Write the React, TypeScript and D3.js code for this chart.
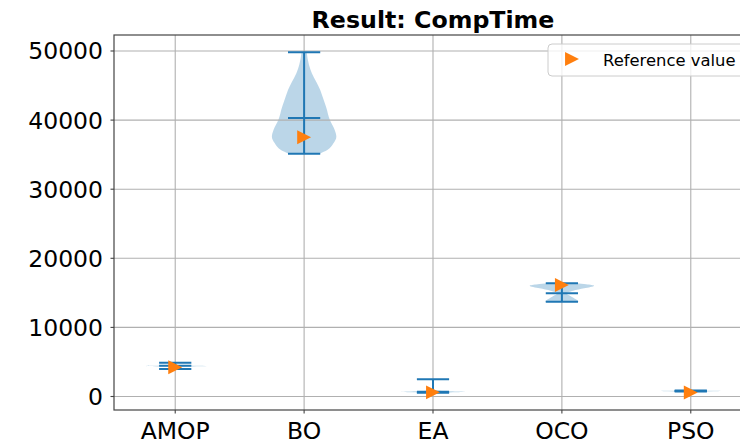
import * as d3 from "d3"

const methods = ["AMOP", "BO", "EA", "OCO", "PSO"]
const minValues = [3980, 35137, 560, 13719, 720]
const meanValues = [4457, 40304, 695, 14935, 796]
const maxValues = [4891, 49812, 2489, 16400, 870]
const referenceValues = [4226, 37511, 600, 16136, 580]
const yTicks = [0, 10000, 20000, 30000, 40000, 50000]

// density profiles: [value, relative half-width]
const densityAMOP: [number, number][] = [
  [3980, 0.01], [4250, 0.04], [4340, 0.4], [4414, 1], [4490, 0.4], [4580, 0.04], [4891, 0.01],
]
const densityBO: [number, number][] = [
  [35137, 0.48], [35677, 0.72], [36642, 0.91], [37597, 1], [38567, 0.95], [40014, 0.8],
  [41940, 0.68], [43000, 0.6], [44356, 0.5], [45500, 0.38], [46773, 0.24], [48000, 0.15], [49812, 0.08],
]
const densityEA: [number, number][] = [
  [560, 0.35], [620, 0.7], [695, 1], [770, 0.55], [880, 0.12], [1100, 0.02], [1600, 0.008], [2489, 0.005],
]
const densityOCO: [number, number][] = [
  [13719, 0.52], [13965, 0.47], [14443, 0.3], [14935, 0.14], [15311, 0.35], [15658, 0.69],
  [16035, 1], [16250, 0.75], [16400, 0.45],
]
const densityPSO: [number, number][] = [
  [720, 0.3], [760, 0.7], [796, 1], [830, 0.7], [870, 0.3],
]
const densities = [densityAMOP, densityBO, densityEA, densityOCO, densityPSO]

const W = 740
const H = 440
const margin = { left: 114, top: 35, bottom: 410, right: 752 }
const font = "DejaVu Sans, sans-serif"
const blue = "#1f77b4"
const orange = "#ff7f0e"

export default function App() {
  const x = d3.scaleLinear().domain([0.525, 5.475]).range([margin.left, margin.right])
  const y = d3.scaleLinear().domain([-1954, 52315]).range([margin.bottom, margin.top])

  const halfW = x(1.25) - x(1)
  const capW = x(1.125) - x(1)
  const ms = 13.9

  const tri = (cx: number, cy: number) =>
    `M${cx + ms / 2},${cy}L${cx - ms / 2},${cy - ms / 2}L${cx - ms / 2},${cy + ms / 2}Z`

  const legendX = 548
  const legendY = 44

  return (
    <svg width={W} height={H} style={{ position: "absolute", left: 0, top: 0, background: "white" }}>
      {/* violin bodies */}
      {densities.map((dens, i) => {
        const cx = x(i + 1)
        const area = d3
          .area<[number, number]>()
          .y((d) => y(d[0]))
          .x0((d) => cx - d[1] * halfW)
          .x1((d) => cx + d[1] * halfW)
          .curve(d3.curveMonotoneY)
        return <path key={methods[i]} d={area(dens) || ""} fill={blue} fillOpacity={0.3} />
      })}

      {/* grid */}
      {yTicks.map((t) => (
        <line key={t} x1={margin.left} x2={margin.right} y1={y(t)} y2={y(t)} stroke="#b0b0b0" strokeWidth={1.1} />
      ))}
      {methods.map((m, i) => (
        <line key={m} x1={x(i + 1)} x2={x(i + 1)} y1={margin.top} y2={margin.bottom} stroke="#b0b0b0" strokeWidth={1.1} />
      ))}

      {/* violin lines */}
      {methods.map((m, i) => {
        const cx = x(i + 1)
        return (
          <g key={m} stroke={blue} strokeWidth={2}>
            <line x1={cx} x2={cx} y1={y(minValues[i])} y2={y(maxValues[i])} />
            <line x1={cx - capW} x2={cx + capW} y1={y(minValues[i])} y2={y(minValues[i])} />
            <line x1={cx - capW} x2={cx + capW} y1={y(maxValues[i])} y2={y(maxValues[i])} />
            <line x1={cx - capW} x2={cx + capW} y1={y(meanValues[i])} y2={y(meanValues[i])} />
          </g>
        )
      })}

      {/* reference markers */}
      {referenceValues.map((v, i) => (
        <path key={methods[i]} d={tri(x(i + 1), y(v))} fill={orange} />
      ))}

      {/* spines */}
      <rect x={margin.left} y={margin.top} width={margin.right - margin.left} height={margin.bottom - margin.top} fill="none" stroke="#444" strokeWidth={1.2} />

      {/* y axis */}
      {yTicks.map((t) => (
        <g key={t}>
          <line x1={margin.left - 3.5} x2={margin.left} y1={y(t)} y2={y(t)} stroke="#444" strokeWidth={1.1} />
          <text x={margin.left - 11} y={y(t)} dy="0.36em" textAnchor="end" fontFamily={font} fontSize={23.5} fill="#000">
            {t}
          </text>
        </g>
      ))}

      {/* x axis */}
      {methods.map((m, i) => (
        <g key={m}>
          <line x1={x(i + 1)} x2={x(i + 1)} y1={margin.bottom} y2={margin.bottom + 3.5} stroke="#444" strokeWidth={1.1} />
          <text x={x(i + 1)} y={438.5} textAnchor="middle" fontFamily={font} fontSize={23.5} fill="#000">
            {m}
          </text>
        </g>
      ))}

      {/* title */}
      <text x={(margin.left + margin.right) / 2} y={27.5} textAnchor="middle" fontFamily={font} fontWeight="bold" fontSize={23.7}>
        Result: CompTime
      </text>

      {/* legend */}
      <rect x={legendX} y={legendY} width={200} height={32} rx={4} fill="white" fillOpacity={0.8} stroke="#cccccc" strokeWidth={1} />
      <path d={tri(legendX + 24, legendY + 15)} fill={orange} />
      <text x={legendX + 55} y={legendY + 21.5} fontFamily={font} fontSize={16.4} fill="#000">
        Reference value
      </text>
    </svg>
  )
}
